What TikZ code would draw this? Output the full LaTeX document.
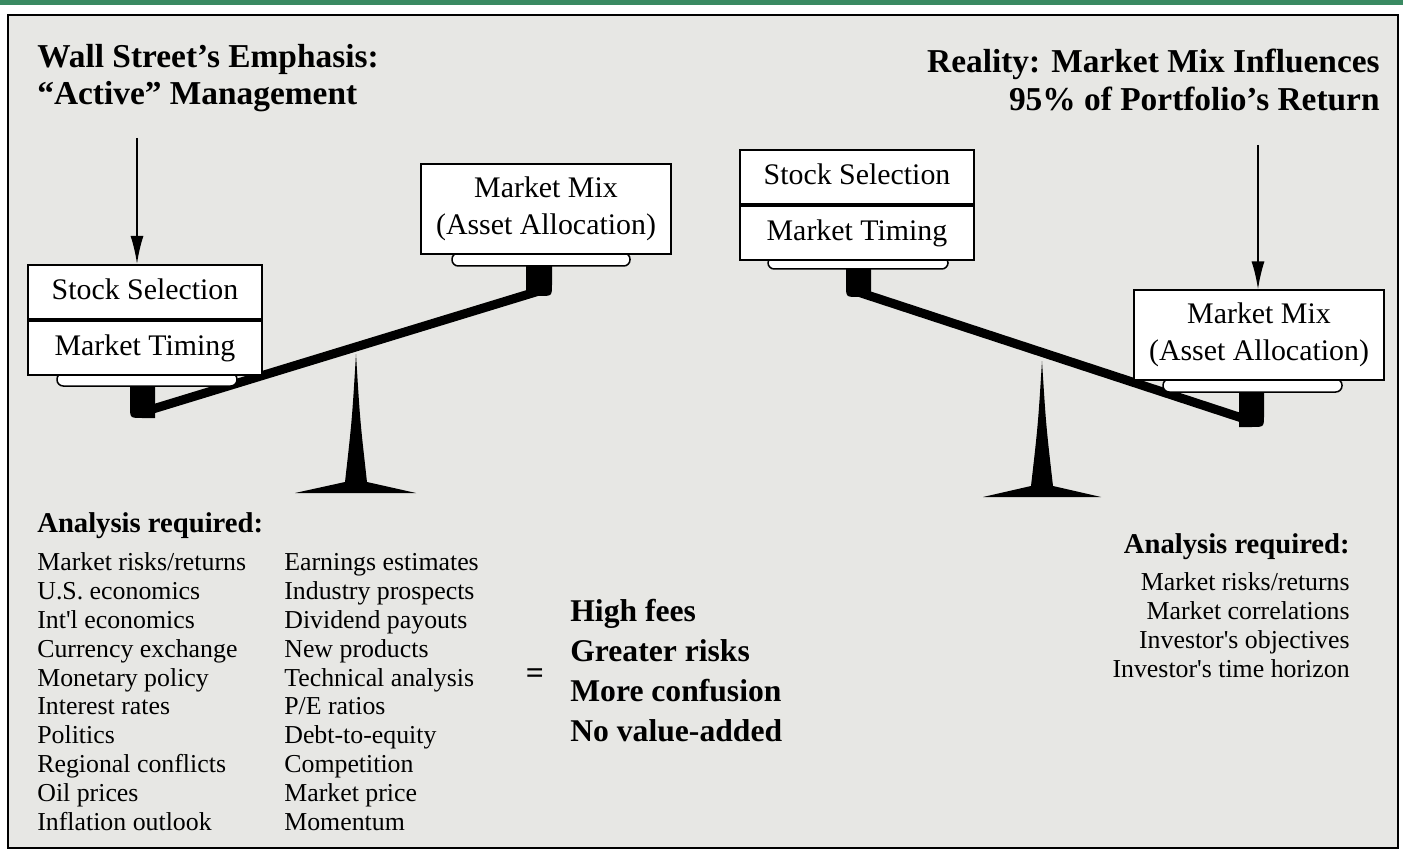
\documentclass[tikz,border=0pt]{standalone}
\usepackage{fontspec}
\setmainfont{Liberation Serif}
\usepackage{tikz}
\usetikzlibrary{positioning,arrows.meta}

\definecolor{paper}{RGB}{231,231,228}
\definecolor{band}{RGB}{58,138,98}

\begin{document}
\begin{tikzpicture}[x=0.2mm,y=-0.2mm,
    cell/.style={draw=black,line width=0.4mm,fill=white,inner sep=0pt,
      minimum width=46.7mm,minimum height=10.8mm,text height=12pt,text depth=3.5pt,
      font=\fontsize{17}{21}\selectfont},
    mixbox/.style={draw=black,line width=0.4mm,fill=white,inner sep=0pt,align=center,
      minimum width=50mm,minimum height=17.8mm,font=\fontsize{17}{21}\selectfont},
    plate/.style={draw=black,line width=0.3mm,fill=white,rounded corners=1.25mm},
    beam/.style={line width=1.8mm},
    arr/.style={line width=0.4mm,-{Latex[length=5.6mm,width=2.6mm]}},
    ttl/.style={inner sep=0pt,font=\bfseries\fontsize{19}{21}\selectfont},
    head/.style={inner sep=0pt,font=\bfseries\fontsize{16.3}{18}\selectfont},
    lst/.style={inner sep=0pt,anchor=base west,font=\fontsize{14.7}{16}\selectfont},
    rlst/.style={inner sep=0pt,anchor=base east,font=\fontsize{14.7}{16}\selectfont},
    big/.style={inner sep=0pt,anchor=base west,font=\bfseries\fontsize{18}{20}\selectfont}]

    \useasboundingbox (0,0) rectangle (1403,850);
    % page
    \fill[white] (0,0) rectangle (1403,850);
    \fill[band] (0,0) rectangle (1403,5);
    \filldraw[fill=paper,draw=black,line width=0.4mm] (8,15) rectangle (1398,848);

    % titles
    \node[ttl,anchor=base west] (wall) at (37,68) {Wall Street’s Emphasis:};
    \node[ttl,anchor=base west] (active) at (37,105) {“Active” Management};
    \node[ttl,anchor=base east] (real) at (1380,73) {Reality: Market Mix Influences};
    \node[ttl,anchor=base east] (pct) at (1380,111) {95\% of Portfolio’s Return};

    % left balance: beam, posts, fulcrum
    \draw[beam] (143,412) -- (539,291);
    \fill (130,385) -- (130,406) .. controls (130,418) .. (142,418) -- (155,418) -- (155,385) -- cycle;
    \fill (526,266) -- (526,296) -- (540,296) .. controls (552,296) .. (552,284) -- (552,266) -- cycle;
    \fill (356,354) .. controls (352,420) .. (345,482) -- (295,493) -- (416,493) -- (367,482) .. controls (360,420) .. (356,354) -- cycle;
    % plates
    \draw[plate] (57,373) rectangle (237,386);
    \draw[plate] (452,253) rectangle (630,266);
    % boxes
    \node[cell] (lsel) at (145,292) {Stock Selection};
    \node[cell,below=0pt of lsel] (ltim) {Market Timing};
    \node[mixbox] (lmix) at (546,209) {Market Mix\\(Asset Allocation)};
    % arrow
    \coordinate (ltop) at (137,138);
    \draw[arr] (ltop) -- (ltop |- lsel.north);

    % right balance: beam, posts, fulcrum
    \draw[beam] (858,292) -- (1251,421);
    \fill (846,269) -- (846,285) .. controls (846,297) .. (858,297) -- (871,297) -- (871,269) -- cycle;
    \fill (1239,392) -- (1239,427) -- (1252,427) .. controls (1264,427) .. (1264,415) -- (1264,392) -- cycle;
    \fill (1042,361) .. controls (1038,425) .. (1031,486) -- (983,497) -- (1101,497) -- (1053,486) .. controls (1046,425) .. (1042,361) -- cycle;
    % plates
    \draw[plate] (768,257) rectangle (948,269);
    \draw[plate] (1163,379) rectangle (1342,392);
    % boxes
    \node[cell] (rsel) at (857,177) {Stock Selection};
    \node[cell,below=0pt of rsel] (rtim) {Market Timing};
    \node[mixbox] (rmix) at (1259,335) {Market Mix\\(Asset Allocation)};
    % arrow
    \coordinate (rtop) at (1258,145);
    \draw[arr] (rtop) -- (rtop |- rmix.north);

    % left analysis
    \node[head,anchor=base west] (lhead) at (37,532) {Analysis required:};
    \node[lst] (a1) at (37,570) {Market risks/returns};
    \node[lst] (a2) at (37,599) {U.S. economics};
    \node[lst] (a3) at (37,628) {Int\textquotesingle l economics};
    \node[lst] (a4) at (37,657) {Currency exchange};
    \node[lst] (a5) at (37,686) {Monetary policy};
    \node[lst] (a6) at (37,714) {Interest rates};
    \node[lst] (a7) at (37,743) {Politics};
    \node[lst] (a8) at (37,772) {Regional conflicts};
    \node[lst] (a9) at (37,801) {Oil prices};
    \node[lst] (a10) at (37,830) {Inflation outlook};
    % second column
    \node[lst] (b1) at (284,570) {Earnings estimates};
    \node[lst] (b2) at (284,599) {Industry prospects};
    \node[lst] (b3) at (284,628) {Dividend payouts};
    \node[lst] (b4) at (284,657) {New products};
    \node[lst] (b5) at (284,686) {Technical analysis};
    \node[lst] (b6) at (284,714) {P/E ratios};
    \node[lst] (b7) at (284,743) {Debt-to-equity};
    \node[lst] (b8) at (284,772) {Competition};
    \node[lst] (b9) at (284,801) {Market price};
    \node[lst] (b10) at (284,830) {Momentum};

    % result
    \node[inner sep=0pt,font=\bfseries\fontsize{18}{20}\selectfont] (eq) at (535,676) {=};
    \node[big] (c1) at (570,621) {High fees};
    \node[big] (c2) at (570,661) {Greater risks};
    \node[big] (c3) at (570,701) {More confusion};
    \node[big] (c4) at (570,741) {No value-added};

    % right analysis
    \node[head,anchor=base east] (rhead) at (1350,553) {Analysis required:};
    \node[rlst] (d1) at (1350,590) {Market risks/returns};
    \node[rlst] (d2) at (1350,619) {Market correlations};
    \node[rlst] (d3) at (1350,648) {Investor\textquotesingle s objectives};
    \node[rlst] (d4) at (1350,677) {Investor\textquotesingle s time horizon};
\end{tikzpicture}
\end{document}
